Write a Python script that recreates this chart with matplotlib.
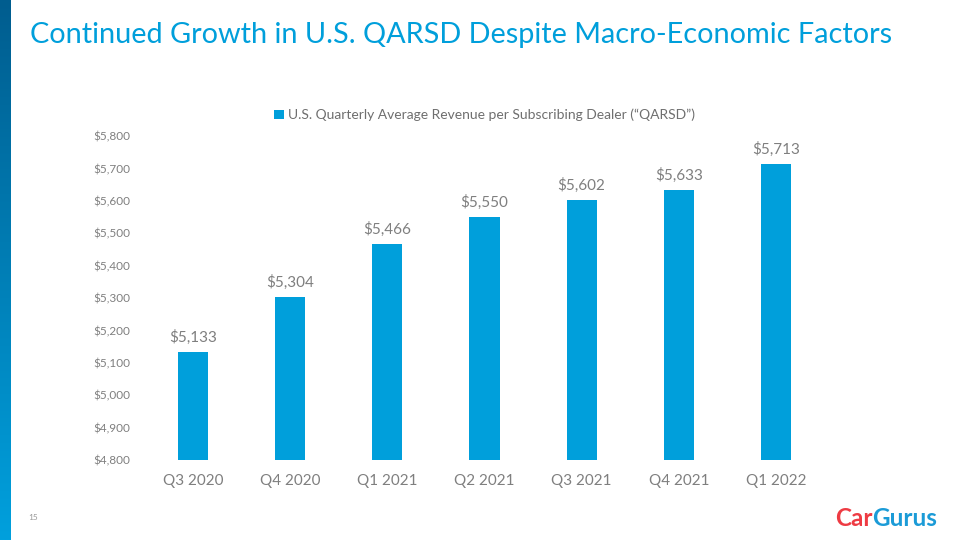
import numpy as np
import matplotlib
matplotlib.use("Agg")
import matplotlib.pyplot as plt
from matplotlib.colors import LinearSegmentedColormap

plt.rcParams['font.family'] = ['Lato', 'DejaVu Sans']

# ============================================================
# data
# ============================================================
quarters = ["Q3 2020", "Q4 2020", "Q1 2021", "Q2 2021", "Q3 2021", "Q4 2021", "Q1 2022"]
qarsd = [5133, 5304, 5466, 5550, 5602, 5633, 5713]
y_ticks = [4800, 4900, 5000, 5100, 5200, 5300, 5400, 5500, 5600, 5700, 5800]

title = "Continued Growth in U.S. QARSD Despite Macro-Economic Factors"
legend_label = "U.S. Quarterly Average Revenue per Subscribing Dealer (\u201cQARSD\u201d)"

blue = "#009fdb"
grey = "#7f7f7f"

# ============================================================
# figure
# ============================================================
fig = plt.figure(figsize=(9.6, 5.4), dpi=100)

# left gradient strip
strip = fig.add_axes([0, 0, 11 / 960, 1])
cmap = LinearSegmentedColormap.from_list("strip", ["#005d8f", "#00a0dd"])
strip.imshow(np.linspace(0, 1, 256).reshape(-1, 1), aspect="auto", cmap=cmap)
strip.axis("off")

fig.text(30 / 960, 1 - 35 / 540, title, color=blue, fontsize=20.8,
         va="center", ha="left")

ax = fig.add_axes([144.5 / 960, 80 / 540, 680 / 960, 324 / 540])
x = np.arange(len(quarters))
bars = ax.bar(x, qarsd, width=0.31, color=blue, bottom=0,
              label=legend_label)

ax.set_ylim(4800, 5800)
ax.set_xlim(-0.5, len(quarters) - 0.5)
ax.set_yticks(y_ticks)
ax.set_yticklabels([f"${v:,}" for v in y_ticks], fontsize=8.5, color=grey)
ax.set_xticks(x)
ax.set_xticklabels(quarters, fontsize=11, color=grey)
ax.tick_params(length=0)
ax.tick_params(axis="y", pad=10)
ax.tick_params(axis="x", pad=10)
for s in ax.spines.values():
    s.set_visible(False)

for xi, v in zip(x, qarsd):
    ax.annotate(f"${v:,}", (xi, v), xytext=(0, 5), textcoords="offset points",
                ha="center", va="bottom", fontsize=11, color=grey)

leg = ax.legend(loc="center", bbox_to_anchor=(0.5, 1 + 21 / 324),
                frameon=False, fontsize=10, handlelength=0.7, handleheight=0.7,
                handletextpad=0.3)
for t in leg.get_texts():
    t.set_color("#6f6f6f")

# page number and logo
fig.text(33 / 960, 1 - 518 / 540, "15", fontsize=6, color="#999999",
         ha="center", va="center")
t1 = fig.text(835 / 960, 1 - 519 / 540, "Car", fontsize=17.5, fontweight="bold",
              color="#ee3b43", ha="left", va="center")
fig.canvas.draw()
bb = t1.get_window_extent()
fig.text(bb.x1 / 960, 1 - 519 / 540, "Gurus", fontsize=17.5, fontweight="bold",
         color="#1b9bd7", ha="left", va="center")

plt.savefig("out.png", dpi=100)
